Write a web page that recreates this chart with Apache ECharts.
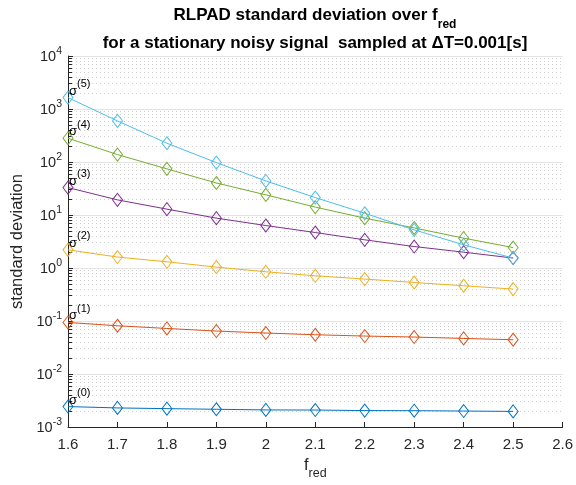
<!DOCTYPE html>
<html>
<head>
<meta charset="utf-8">
<script src="https://cdn.jsdelivr.net/npm/echarts@6/dist/echarts.min.js"></script>
<style>
html,body{margin:0;padding:0;background:#fff;}
#chart{width:576px;height:485px;}
</style>
</head>
<body>
<div id="chart"></div>
<script>
// ---- data ----
var fred = [1.6, 1.7, 1.8, 1.9, 2.0, 2.1, 2.2, 2.3, 2.4, 2.5];
var sigma0 = [0.00243, 0.00229, 0.00222, 0.00216, 0.00210, 0.00209, 0.00204, 0.00203, 0.00200, 0.00197];
var sigma1 = [0.0939, 0.0813, 0.0723, 0.0646, 0.0593, 0.0550, 0.0520, 0.0498, 0.0469, 0.0443];
var sigma2 = [2.20, 1.61, 1.31, 1.04, 0.848, 0.713, 0.618, 0.533, 0.462, 0.400];
var sigma3 = [32.9, 19.3, 12.9, 8.73, 6.33, 4.67, 3.40, 2.54, 1.99, 1.54];
var sigma4 = [281, 138, 74.2, 40.2, 24.0, 14.1, 8.73, 5.70, 3.66, 2.43];
var sigma5 = [1640, 596, 226, 97.5, 44.0, 21.3, 10.8, 5.25, 2.74, 1.54];
var seriesNames = ['0', '1', '2', '3', '4', '5'];
var xTicks = [1.6, 1.7, 1.8, 1.9, 2.0, 2.1, 2.2, 2.3, 2.4, 2.5, 2.6];
var yMin = 0.001, yMax = 10000;
var colors = ['#0072BD', '#D95319', '#EDB120', '#7E2F8E', '#77AC30', '#4DBEEE'];

var allSigma = [sigma0, sigma1, sigma2, sigma3, sigma4, sigma5];
var FONT = 'Liberation Sans, Arial, Helvetica, sans-serif';
var AX = '#262626';

function pairs(ys) { return fred.map(function (x, i) { return [x, ys[i]]; }); }

var series = allSigma.map(function (ys, k) {
  return {
    name: 'sigma' + seriesNames[k],
    type: 'line',
    data: pairs(ys),
    symbol: 'diamond',
    symbolSize: [10, 13],
    z: 3 + k,
    lineStyle: { color: colors[k], width: 1 },
    itemStyle: { color: 'rgba(255,255,255,0)', borderColor: colors[k], borderWidth: 1 },
    emphasis: { disabled: true },
    label: {
      show: true,
      position: 'top',
      align: 'left',
      distance: -2,
      offset: [1, 5],
      formatter: function (p) {
        return p.dataIndex === 0 ? '{s|σ}{p|(' + seriesNames[k] + ')}' : '';
      },
      rich: {
        s: { fontFamily: FONT, fontSize: 13, color: '#000', verticalAlign: 'bottom', lineHeight: 13 },
        p: { fontFamily: FONT, fontSize: 11, color: '#000', verticalAlign: 'bottom', lineHeight: 13, padding: [0, 0, 8, 0] }
      }
    }
  };
});

var chart = echarts.init(document.getElementById('chart'), null, { renderer: 'canvas' });
chart.setOption({
  animation: false,
  backgroundColor: '#fff',
  title: [
    {
      text: '{t|RLPAD standard deviation over f}{sub|red}',
      left: 315, top: 13, textAlign: 'center', padding: 0,
      textStyle: {
        rich: {
          t: { fontFamily: FONT, fontSize: 17, fontWeight: 'bold', color: '#000', verticalAlign: 'bottom', lineHeight: 18, padding: [0, 0, 7, 0] },
          sub: { fontFamily: FONT, fontSize: 12, fontWeight: 'bold', color: '#000', verticalAlign: 'bottom', lineHeight: 14 }
        }
      }
    },
    {
      text: 'for a stationary noisy signal  sampled at ΔT=0.001[s]',
      left: 315, top: 35, textAlign: 'center', padding: 0,
      textStyle: { fontFamily: FONT, fontSize: 17, fontWeight: 'bold', color: '#000' }
    }
  ],
  grid: { left: 68, right: 10, top: 56, bottom: 58, containLabel: false },
  xAxis: {
    type: 'value',
    min: 1.6, max: 2.6, interval: 0.1,
    name: '{f|f}{r|red}',
    nameLocation: 'middle',
    nameGap: 28,
    nameTextStyle: {
      rich: {
        f: { fontFamily: FONT, fontSize: 16.5, color: AX, verticalAlign: 'bottom', lineHeight: 18, padding: [0, 0, 6, 0] },
        r: { fontFamily: FONT, fontSize: 12.5, color: AX, verticalAlign: 'bottom', lineHeight: 14 }
      }
    },
    axisLine: { show: true, lineStyle: { color: AX, width: 1 } },
    axisTick: { show: true, inside: true, length: 5, lineStyle: { color: AX } },
    axisLabel: {
      fontFamily: FONT, fontSize: 15, color: AX, margin: 10,
      formatter: function (v) { return String(Math.round(v * 10) / 10); }
    },
    splitLine: { show: false }
  },
  yAxis: {
    type: 'log',
    logBase: 10,
    min: yMin, max: yMax,
    interval: 1,
    name: 'standard deviation',
    nameLocation: 'middle',
    nameGap: 40,
    nameRotate: 90,
    nameTextStyle: { fontFamily: FONT, fontSize: 16.5, color: AX },
    axisLine: { show: true, lineStyle: { color: AX, width: 1 } },
    axisTick: { show: true, inside: true, length: 5, lineStyle: { color: AX } },
    minorTick: { show: true, splitNumber: 9, length: 4, lineStyle: { color: AX } },
    axisLabel: {
      fontFamily: FONT, color: AX, margin: 6,
      formatter: function (v) {
        var e = Math.round(Math.log10(v));
        return '{b|10}{e|' + e + '}';
      },
      rich: {
        b: { fontFamily: FONT, fontSize: 14.5, color: AX, verticalAlign: 'bottom', lineHeight: 16 },
        e: { fontFamily: FONT, fontSize: 10.5, color: AX, verticalAlign: 'bottom', lineHeight: 16, padding: [0, 0, 7, 0] }
      }
    },
    splitLine: { show: true, lineStyle: { color: '#e3e3e3', width: 1 } },
    minorSplitLine: { show: true, lineStyle: { color: '#cfcfcf', width: 1, type: [1, 3] } }
  },
  series: series
});
</script>
</body>
</html>
